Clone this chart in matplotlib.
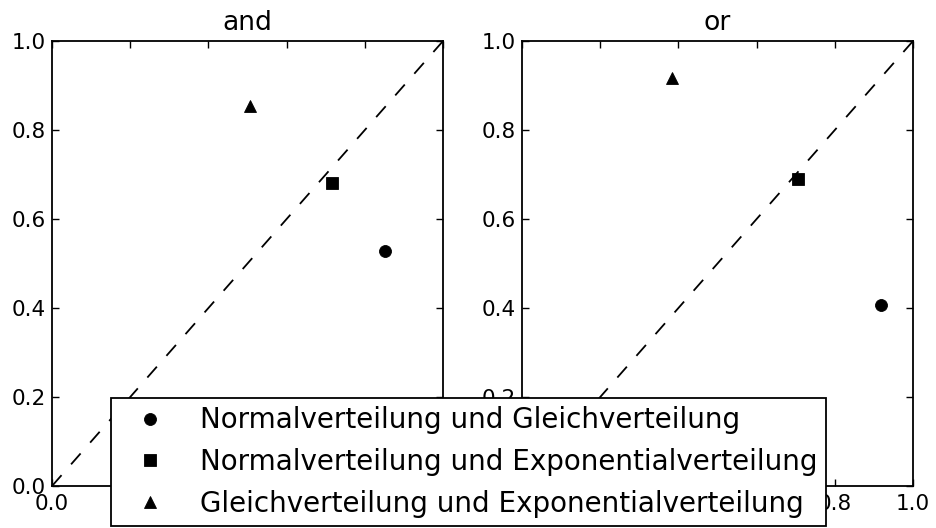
import matplotlib
matplotlib.use("Agg")
import matplotlib.pyplot as plt

# Pairs of distributions compared in each panel
labels = [
    "Normalverteilung und Gleichverteilung",
    "Normalverteilung und Exponentialverteilung",
    "Gleichverteilung und Exponentialverteilung",
]
markers = ["o", "s", "^"]

panel_titles = ["and", "or"]
and_x = [0.852, 0.715, 0.507]
and_y = [0.528, 0.681, 0.853]
or_x = [0.917, 0.707, 0.384]
or_y = [0.406, 0.689, 0.918]

ticks = [0.0, 0.2, 0.4, 0.6, 0.8, 1.0]
tick_labels = ["0.0", "0.2", "0.4", "0.6", "0.8", "1.0"]

plt.rcParams["font.family"] = ["DejaVu Sans"]

fig = plt.figure(figsize=(9.37, 5.28), dpi=100, facecolor="white")
ax_left = fig.add_axes([0.0555, 0.0795, 0.4173, 0.8428])
ax_right = fig.add_axes([0.5571, 0.0795, 0.4173, 0.8428])

handles = []
for ax, title, xs, ys in [(ax_left, panel_titles[0], and_x, and_y),
                          (ax_right, panel_titles[1], or_x, or_y)]:
    ax.plot([0, 1], [0, 1], color="black", linestyle=(0, (8, 8)), linewidth=1.3)
    hs = []
    for x, y, m, lab in zip(xs, ys, markers, labels):
        h, = ax.plot([x], [y], linestyle="none", marker=m, markersize=8.6,
                     color="black", markeredgewidth=0.6, label=lab)
        hs.append(h)
    handles = hs
    ax.set_xlim(0, 1)
    ax.set_ylim(0, 1)
    ax.set_xticks(ticks)
    ax.set_xticklabels(tick_labels)
    ax.set_yticks(ticks)
    ax.set_yticklabels(tick_labels)
    ax.tick_params(direction="in", top=True, right=True, length=5, width=1.0,
                   labelsize=15.5, pad=4.5)
    ax.tick_params(axis="x", pad=5.5)
    for s in ax.spines.values():
        s.set_linewidth(1.3)
    ax.set_title(title, fontsize=19.2, pad=8)

leg = fig.legend(handles, labels, loc="lower center",
                 bbox_to_anchor=(0.5, 0.004), borderaxespad=0,
                 fontsize=20.0, numpoints=1, fancybox=False, framealpha=1,
                 edgecolor="black", borderpad=0.3, handlelength=2.25,
                 handletextpad=0.68, labelspacing=0.49)
leg.get_frame().set_linewidth(1.3)

fig.savefig("out.png", dpi=100, facecolor="white")
